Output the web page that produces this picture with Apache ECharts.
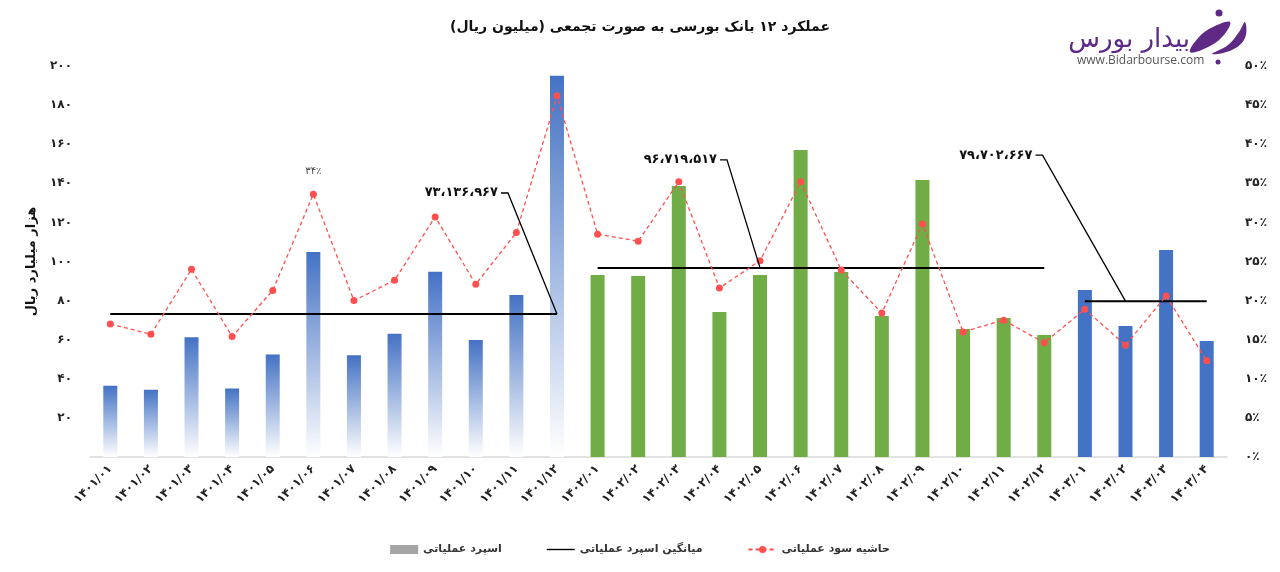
<!DOCTYPE html>
<html>
<head>
<meta charset="utf-8">
<script src="https://cdn.jsdelivr.net/npm/echarts@6/dist/echarts.min.js"></script>
<style>html,body{margin:0;padding:0;background:#fff;}#c{width:1280px;height:572px;}</style>
</head>
<body>
<div id="c"></div>
<script>
// ---- data ----
const categories = ['1401/01','1401/02','1401/03','1401/04','1401/05','1401/06','1401/07','1401/08','1401/09','1401/10','1401/11','1401/12',
  '1402/01','1402/02','1402/03','1402/04','1402/05','1402/06','1402/07','1402/08','1402/09','1402/10','1402/11','1402/12',
  '1403/01','1403/02','1403/03','1403/04'];
// operating spread (thousand billion rial)
const spread = [36.4,34.4,61.3,35.1,52.4,104.9,52.1,63.0,94.7,59.9,82.9,195.0,
  93.1,92.6,138.6,74.2,93.1,157.0,94.6,72.1,141.7,65.5,71.1,62.4,
  85.4,67.0,105.9,59.3];
// operating profit margin (%)
const margin = [17.0,15.7,24.0,15.4,21.3,33.6,20.0,22.6,30.7,22.1,28.7,46.2,
  28.5,27.6,35.2,21.6,25.1,35.2,23.9,18.4,29.8,16.0,17.5,14.6,
  18.9,14.3,20.6,12.3];
// average spread per year (million rial)
const avgSpreadMillion = [73136967, 96719517, 79702667];
const groupSizes = [12, 12, 4];
const leftTicks = [0,20,40,60,80,100,120,140,160,180,200];
const rightTicks = [0,5,10,15,20,25,30,35,40,45,50];

// ---- helpers ----
const FA = '۰۱۲۳۴۵۶۷۸۹';
const toFa = s => String(s).replace(/\d/g, d => FA[d]);
const sepFa = n => toFa(String(n).replace(/\B(?=(\d{3})+(?!\d))/g, '،'));
const FONT = 'DejaVu Sans';

const starts = [];
let acc = 0;
groupSizes.forEach(g => { starts.push(acc); acc += g; });
const groupOf = i => { for (let k = groupSizes.length - 1; k >= 0; k--) if (i >= starts[k]) return k; return 0; };

const gradBlue = new echarts.graphic.LinearGradient(0, 0, 0, 1, [
  {offset: 0, color: '#4472C4'}, {offset: 1, color: '#FFFFFF'}]);
const groupColor = [gradBlue, '#70AD47', '#4472C4'];

const avgSeries = avgSpreadMillion.map((m, k) => ({
  name: 'میانگین اسپرد عملیاتی',
  type: 'line',
  yAxisIndex: 0,
  symbol: 'none',
  z: 5,
  lineStyle: {color: '#000', width: 2},
  itemStyle: {color: '#000'},
  data: categories.map((c, i) => (groupOf(i) === k ? m / 1e6 : null))
}));

const chart = echarts.init(document.getElementById('c'));
chart.setOption({
  animation: false,
  backgroundColor: '#fff',
  textStyle: {fontFamily: FONT},
  title: {
    text: '\u202B' + 'عملکرد ۱۲ بانک بورسی به صورت تجمعی (میلیون ریال)' + '\u202C',
    left: 'center', top: 15,
    textStyle: {fontFamily: FONT, fontSize: 14, fontWeight: 'bold', color: '#111'}
  },
  legend: {
    top: 539, left: 'center', itemGap: 45, itemWidth: 28, itemHeight: 9,
    textStyle: {fontFamily: FONT, fontSize: 11, fontWeight: 'bold', color: '#333'},
    data: [
      {name: 'اسپرد عملیاتی', icon: 'rect', itemStyle: {color: '#A5A5A5'}},
      {name: 'میانگین اسپرد عملیاتی', icon: 'path://M0,0 L40,0 L40,2 L0,2 Z', itemHeight: 2},
      {name: 'حاشیه سود عملیاتی'}
    ]
  },
  grid: {left: 90, right: 53, top: 66, bottom: 115},
  xAxis: {
    type: 'category', data: categories,
    axisLine: {lineStyle: {color: '#D9D9D9', width: 1.5}},
    axisTick: {show: false},
    axisLabel: {rotate: 45, margin: 10, fontFamily: FONT, fontSize: 12, fontWeight: 'bold', color: '#222',
      formatter: v => toFa(v)}
  },
  yAxis: [{
    type: 'value', min: leftTicks[0], max: leftTicks[leftTicks.length - 1], interval: leftTicks[1] - leftTicks[0],
    name: 'هزار میلیارد ریال', nameLocation: 'middle', nameRotate: 90, nameGap: 52,
    nameTextStyle: {fontFamily: FONT, fontSize: 13, fontWeight: 'bold', color: '#111'},
    axisLine: {show: false}, axisTick: {show: false}, splitLine: {show: false},
    axisLabel: {margin: 18, fontFamily: FONT, fontSize: 12, fontWeight: 'bold', color: '#222',
      formatter: v => (v === 0 ? '' : toFa(v))}
  }, {
    type: 'value', min: rightTicks[0], max: rightTicks[rightTicks.length - 1], interval: rightTicks[1] - rightTicks[0],
    axisLine: {show: false}, axisTick: {show: false}, splitLine: {show: false},
    axisLabel: {margin: 18, fontFamily: FONT, fontSize: 12, fontWeight: 'bold', color: '#222',
      formatter: v => toFa(v) + '٪'}
  }],
  series: [{
    name: 'اسپرد عملیاتی', type: 'bar', yAxisIndex: 0, barWidth: 14,
    itemStyle: {color: '#A5A5A5'},
    data: spread.map((v, i) => ({value: v, itemStyle: {color: groupColor[groupOf(i)]}}))
  }].concat(avgSeries).concat([{
    name: 'حاشیه سود عملیاتی', type: 'line', yAxisIndex: 1, z: 6,
    symbol: 'circle', symbolSize: 7,
    lineStyle: {color: '#FF5050', width: 1.3, type: [4, 3]},
    itemStyle: {color: '#FF5050'},
    label: {show: false},
    data: margin.map((v, i) => (i === 5 ? {value: v, label: {show: true, position: 'top', distance: 14,
      fontFamily: FONT, fontSize: 10, color: '#444', formatter: p => toFa(Math.round(p.value)) + '٪'}} : v))
  }])
});

// ---- annotations for average lines ----
const anchorIdx = [11, 16, 25];
const elbowOff = [[-49, -121], [-33, -108], [-83, -146]];
const g = [];
avgSpreadMillion.forEach((m, k) => {
  const p = chart.convertToPixel({xAxisIndex: 0, yAxisIndex: 0}, [anchorIdx[k], m / 1e6]);
  const ex = p[0] + elbowOff[k][0], ey = p[1] + elbowOff[k][1];
  g.push({type: 'polyline', shape: {points: [[ex - 7, ey], [ex, ey], [p[0], p[1]]]},
    style: {stroke: '#000', lineWidth: 1.3, fill: null}, z: 10});
  g.push({type: 'text', x: ex - 10, y: ey, z: 10,
    style: {text: sepFa(m), fill: '#111', font: 'bold 13px "DejaVu Sans"', textAlign: 'right', textVerticalAlign: 'middle'}});
});
// ---- logo ----
g.push({type: 'text', x: 1190, y: 40, z: 10,
  style: {text: 'بیدار بورس', fill: '#5E2A84', font: '26px "DejaVu Sans"', textAlign: 'right', textVerticalAlign: 'middle'}});
g.push({type: 'text', x: 1077, y: 61, z: 10,
  style: {text: 'www.Bidarbourse.com', fill: '#555', font: '12px "Open Sans"', textAlign: 'left', textVerticalAlign: 'middle'}});
g.push({type: 'circle', shape: {cx: 1218, cy: 62, r: 2.5}, style: {fill: '#5E2A84'}, z: 10});
g.push({type: 'circle', shape: {cx: 1219, cy: 13, r: 3.5}, style: {fill: '#5E2A84'}, z: 10});
g.push({type: 'polygon', shape: {points: [[1190,52],[1199,37],[1213,27],[1230,22],[1223,36],[1206,48]], smooth: 0.4},
  style: {fill: '#5E2A84'}, z: 10});
g.push({type: 'polygon', shape: {points: [[1212,54],[1228,45],[1239,32],[1245,22],[1245,38],[1232,50]], smooth: 0.4},
  style: {fill: '#5E2A84'}, z: 10});
chart.setOption({graphic: g});
</script>
</body>
</html>
